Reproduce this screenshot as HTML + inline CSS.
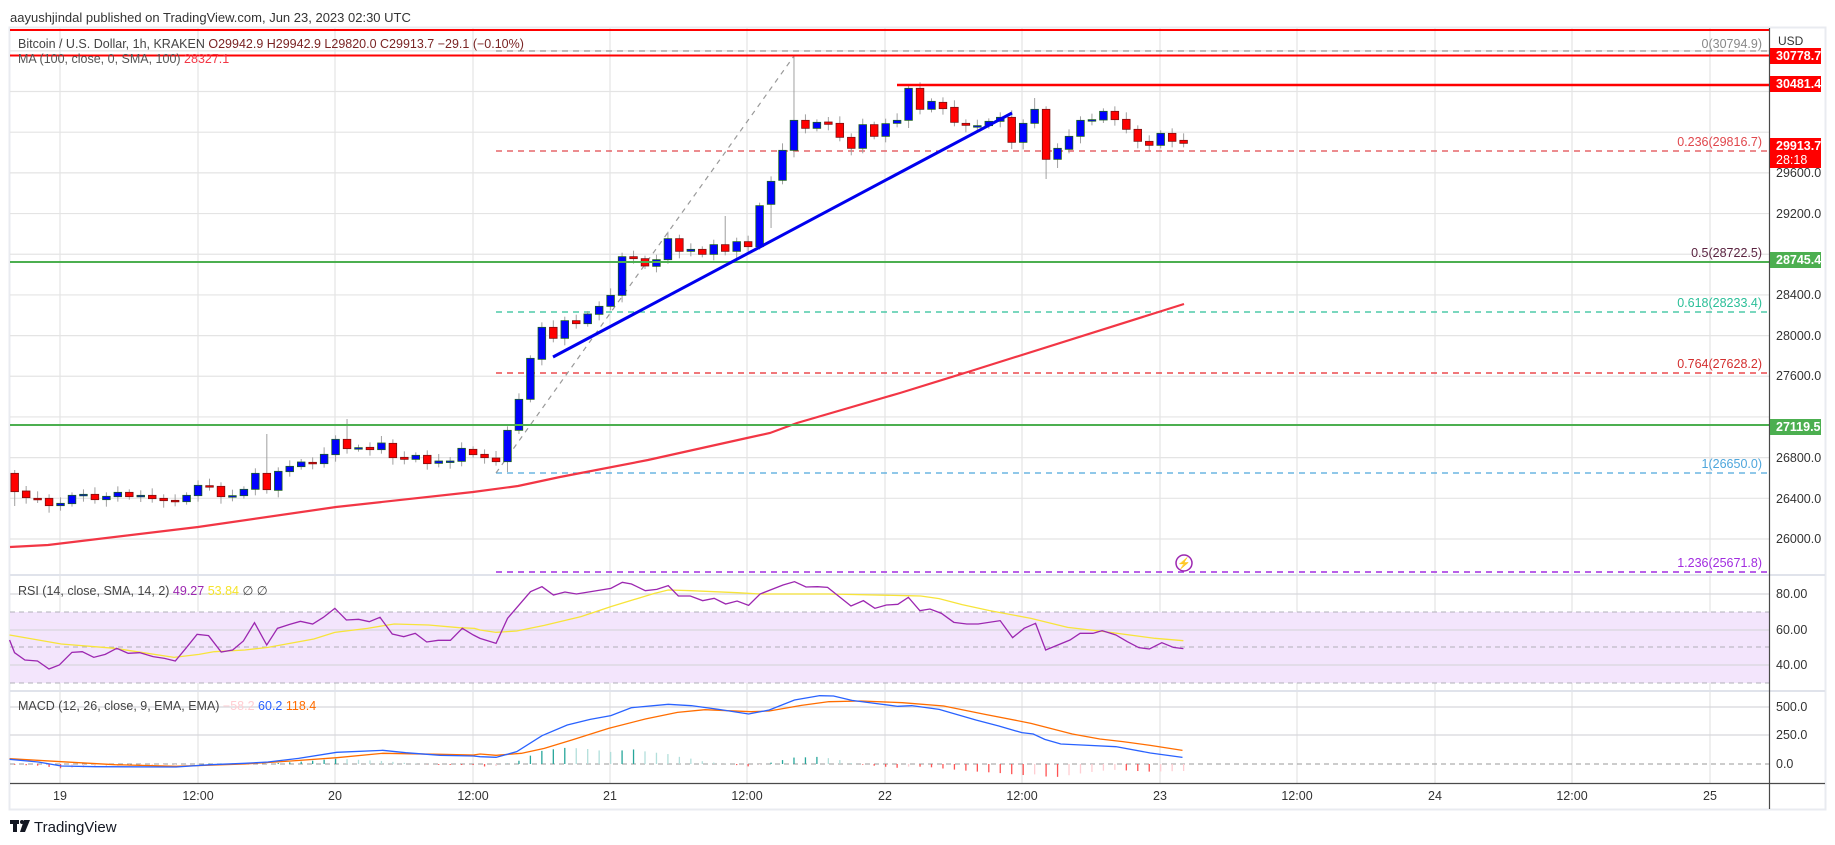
<!DOCTYPE html>
<html><head><meta charset="utf-8"><style>
html,body{margin:0;padding:0;background:#fff;width:1835px;height:845px;overflow:hidden}
svg{display:block;font-family:"Liberation Sans",sans-serif}
</style></head><body>
<svg id="s" width="1835" height="845" viewBox="0 0 1835 845" xmlns="http://www.w3.org/2000/svg">
<rect x="0" y="0" width="1835" height="845" fill="#fff"/>
<rect x="9.5" y="27.5" width="1816" height="782" fill="#fff" stroke="#e9ebf0" stroke-width="2"/>
<g id="grid"></g>
<rect x="10" y="612" width="1759" height="71" fill="#f3e5fc"/>
<g id="gridl"></g>
<line x1="10" y1="575" x2="1769" y2="575" stroke="#e0e3eb" stroke-width="2"/>
<line x1="10" y1="691" x2="1769" y2="691" stroke="#e0e3eb" stroke-width="2"/>
<line x1="1769" y1="575" x2="1825" y2="575" stroke="#e0e3eb" stroke-width="2"/>
<line x1="1769" y1="691" x2="1825" y2="691" stroke="#e0e3eb" stroke-width="2"/>
<g id="lv"></g>
<g id="cd"></g>
<g id="ov"></g>
<line x1="1769.5" y1="28" x2="1769.5" y2="809" stroke="#4a4a4a" stroke-width="1.2"/>
<line x1="10" y1="783.5" x2="1825" y2="783.5" stroke="#4a4a4a" stroke-width="1.2"/>

<text x="10" y="22" font-size="13" fill="#333">aayushjindal published on TradingView.com, Jun 23, 2023 02:30 UTC</text>
<text x="18" y="48" font-size="12.5" fill="#444">Bitcoin / U.S. Dollar, 1h, KRAKEN <tspan fill="#7a2424"> O29942.9  H29942.9  L29820.0  C29913.7  −29.1 (−0.10%)</tspan></text>
<text x="18" y="63" font-size="12.5" fill="#555">MA (100, close, 0, SMA, 100) <tspan fill="#f23645">28327.1</tspan></text>
<text x="18" y="595" font-size="12.5" fill="#444">RSI (14, close, SMA, 14, 2) <tspan fill="#9c27b0">49.27</tspan> <tspan fill="#f5e42c">53.84</tspan>  ∅  ∅</text>
<text x="18" y="710" font-size="12.5" fill="#444">MACD (12, 26, close, 9, EMA, EMA) <tspan fill="#ffcdd2">−58.2</tspan> <tspan fill="#2962ff">60.2</tspan> <tspan fill="#ff6d00">118.4</tspan></text>

<g font-size="12.5" fill="#333" id="axl">
<text x="1778" y="45" font-size="12">USD</text>
<text x="1776" y="177">29600.0</text>
<text x="1776" y="218">29200.0</text>
<text x="1776" y="299">28400.0</text>
<text x="1776" y="340">28000.0</text>
<text x="1776" y="380">27600.0</text>
<text x="1776" y="462">26800.0</text>
<text x="1776" y="503">26400.0</text>
<text x="1776" y="543">26000.0</text>
<text x="1776" y="598">80.00</text>
<text x="1776" y="634">60.00</text>
<text x="1776" y="669">40.00</text>
<text x="1776" y="711">500.0</text>
<text x="1776" y="739">250.0</text>
<text x="1776" y="768">0.0</text>
</g>
<g font-size="12.5" fill="#fff" font-weight="bold">
<rect x="1770" y="48" width="51" height="16" fill="#f00"/><text x="1776" y="60">30778.7</text>
<rect x="1770" y="76" width="51" height="16" fill="#f00"/><text x="1776" y="88">30481.4</text>
<rect x="1770" y="138" width="51" height="30" fill="#f00"/><text x="1776" y="150">29913.7</text><text x="1776" y="164" font-weight="normal">28:18</text>
<rect x="1770" y="252" width="51" height="16" fill="#4caf50"/><text x="1776" y="264">28745.4</text>
<rect x="1770" y="419" width="51" height="16" fill="#4caf50"/><text x="1776" y="431">27119.5</text>
</g>
<g font-size="12.5" text-anchor="end">
<text x="1762" y="48" fill="#888">0(30794.9)</text>
<text x="1762" y="146" fill="#e0474c">0.236(29816.7)</text>
<text x="1762" y="257" fill="#5a2340">0.5(28722.5)</text>
<text x="1762" y="307" fill="#2bbf98">0.618(28233.4)</text>
<text x="1762" y="368" fill="#d32f2f">0.764(27628.2)</text>
<text x="1762" y="468" fill="#4ea6dc">1(26650.0)</text>
<text x="1762" y="567" fill="#a12ce0">1.236(25671.8)</text>
</g>
<g font-size="12.5" fill="#333" text-anchor="middle">
<text x="60" y="800">19</text><text x="198" y="800">12:00</text><text x="335" y="800">20</text><text x="473" y="800">12:00</text>
<text x="610" y="800">21</text><text x="747" y="800">12:00</text><text x="885" y="800">22</text><text x="1022" y="800">12:00</text>
<text x="1160" y="800">23</text><text x="1297" y="800">12:00</text><text x="1435" y="800">24</text><text x="1572" y="800">12:00</text>
<text x="1710" y="800">25</text>
</g>
<circle cx="1184" cy="563" r="8" fill="#fff" stroke="#9c27b0" stroke-width="1.5"/>
<text x="1184" y="567" font-size="11" fill="#9c27b0" text-anchor="middle">⚡</text>
<g>
<rect x="10" y="820" width="9" height="4" fill="#131722"/><rect x="13" y="820" width="4" height="12" fill="#131722"/>
<circle cx="22" cy="822" r="2" fill="#131722"/><polygon points="24,820 30,820 25,832 20,832" fill="#131722"/>
<text x="34" y="832" font-size="15" fill="#131722">TradingView</text>
</g>
</svg>
<script>
(function(){
var NS="http://www.w3.org/2000/svg";
function el(p,t,a){var e=document.createElementNS(NS,t);for(var k in a)e.setAttribute(k,a[k]);document.getElementById(p).appendChild(e);return e;}
function py(p){return 539-(p-26000)*0.1017;}
for(var p=26000;p<=30800;p+=400){var y=py(p);el('grid','line',{x1:10,y1:y,x2:1769,y2:y,stroke:'#e4e4e4','stroke-width':1.2});}
var tx=[60,198,335,473,610,747,885,1022,1160,1297,1435,1572,1710];
tx.forEach(function(x){el('grid','line',{x1:x,y1:28,x2:x,y2:783,stroke:'#e4e4e4','stroke-width':1.2});});
[594,630,665,707,735].forEach(function(y){el('gridl','line',{x1:10,y1:y,x2:1769,y2:y,stroke:'#d8d8dc','stroke-width':1.2});});
[612,647,683].forEach(function(y){el('gridl','line',{x1:10,y1:y,x2:1769,y2:y,stroke:'#b0b0b8','stroke-width':1,'stroke-dasharray':'5,4'});});
el('gridl','line',{x1:10,y1:764,x2:1769,y2:764,stroke:'#9a9a9a','stroke-width':1,'stroke-dasharray':'5,4'});
function hl(y,c,x1,dash,w){var a={x1:x1,y1:y,x2:1769,y2:y,stroke:c,'stroke-width':w||1.2};if(dash)a['stroke-dasharray']=dash;el('lv','line',a);}
hl(51,'#999',496,'6,5');
hl(151,'#e0474c',496,'6,5');
hl(262,'#5a2340',496,'6,5');
hl(312,'#2bbf98',496,'6,5');
hl(373,'#e8262b',496,'6,5');
hl(473,'#4ea6dc',496,'6,5');
hl(572,'#a12ce0',496,'6,5',1.5);
el('lv','line',{x1:496,y1:473,x2:794,y2:56,stroke:'#999','stroke-width':1.2,'stroke-dasharray':'5,5'});
var ma=[[10,547],[48,545],[198,527],[336,507],[473,492],[518,486],[560,477],[648,460],[747,438],[770,433],[797,423],[900,393],[971,371],[1184,304]];
el('lv','polyline',{points:ma.join(' '),fill:'none',stroke:'#f23645','stroke-width':2.2});
var z5=[[280,335,'d'],[333,353,'d'],[355,357,'d'],[355,377,'d'],[377,370,'u'],[371,346,'u'],[347,343,'u'],[343,359,'d'],[359,349,'u'],[350,337,'u'],[337,350,'d'],[346,348,'u'],[346,356,'d'],[355,362,'d'],[361,364,'d'],[365,346,'u'],[347,316,'u'],[317,320,'d'],[319,350,'d'],[347,349,'u'],[347,328,'u'],[328,280,'u'],[280,329,'d'],[331,274,'u'],[275,259,'u'],[260,246,'u'],[247,250,'d'],[251,223,'u'],[224,178,'u'],[178,206,'d'],[203,206,'u'],[202,209,'d'],[209,189,'u'],[190,233,'d'],[232,238,'d'],[238,226,'u'],[226,251,'d'],[250,243,'u'],[243,245,'u'],[244,205,'u'],[208,224,'d'],[223,233,'d'],[234,245,'d'],[245,151,'u'],[151,58,'u']];
var z6=[[1078,955,'u'],[958,862,'u'],[862,895,'d'],[895,842,'u'],[842,851,'d'],[851,822,'u'],[823,799,'u'],[799,766,'u'],[766,650,'u'],[650,656,'d'],[656,678,'d'],[679,659,'u'],[659,596,'u'],[596,634,'d'],[634,628,'u'],[628,643,'d'],[643,614,'u'],[614,634,'d'],[634,605,'u'],[605,620,'d'],[620,497,'u'],[493,424,'u'],[421,331,'u'],[331,241,'u'],[241,265,'d'],[265,247,'u'],[246,253,'d'],[250,292,'d'],[292,325,'d'],[325,254,'u'],[254,289,'d'],[289,251,'u'],[250,241,'u']];
var z7=[[181,85,'u'],[85,148,'d'],[148,124,'u'],[127,146,'d'],[142,187,'d'],[190,196,'d'],[197,199,'u'],[197,184,'u'],[184,172,'u'],[172,247,'d'],[247,190,'u'],[190,148,'u'],[148,298,'d'],[298,265,'u'],[268,229,'u'],[229,181,'u'],[181,179,'u'],[180,154,'u'],[154,179,'d'],[178,208,'d'],[208,244,'d'],[244,256,'d'],[256,220,'u'],[220,244,'d'],[241,250,'d']];
var C=[];
z5.forEach(function(c){C.push([380+c[0]/3,380+c[1]/3,c[2]]);});
z6.forEach(function(c){C.push([40+c[0]/3,40+c[1]/3,c[2]]);});
z7.forEach(function(c){C.push([60+c[0]/3,60+c[1]/3,c[2]]);});
var ov={0:[470,506],22:[434,null],29:[419,null],68:[56,null],90:[null,179],62:[216,null],43:[null,472],44:[null,434],66:[null,228],91:[null,168],89:[98,null],78:[null,128],87:[null,149]};
C.forEach(function(c,i){
 var x=14.7+i*11.46,t=Math.min(c[0],c[1]),b=Math.max(c[0],c[1]);
 var h=t-3-(i*7%5),l=b+3+(i*3%5);
 if(ov[i]){if(ov[i][0]!=null)h=ov[i][0];if(ov[i][1]!=null)l=ov[i][1];}
 el('cd','line',{x1:x,y1:h,x2:x,y2:l,stroke:'#a0a0a0','stroke-width':1});
 var up=c[2]=='u';
 var hh=Math.max(b-t,1.5);
 el('cd','rect',{x:x-3.8,y:t,width:7.6,height:hh,fill:up?'#0000ff':'#ff0000',stroke:up?'#1b5e20':'#7a1010','stroke-width':0.8});
});
el('ov','line',{x1:10,y1:30,x2:1769,y2:30,stroke:'#f00','stroke-width':2});
el('ov','line',{x1:10,y1:55.5,x2:1769,y2:55.5,stroke:'#f00','stroke-width':2});
el('ov','line',{x1:897,y1:85,x2:1769,y2:85,stroke:'#f00','stroke-width':2.5});
el('ov','line',{x1:10,y1:262,x2:1769,y2:262,stroke:'#4caf50','stroke-width':2});
el('ov','line',{x1:10,y1:425,x2:1769,y2:425,stroke:'#4caf50','stroke-width':2});
el('ov','line',{x1:553,y1:357,x2:1012,y2:113,stroke:'#0000ee','stroke-width':3});
function m4(a){return a.map(function(p){return [p[0]*0.3827,560+p[1]/3];}).filter(function(p){return p[0]<482;});}
function m8(a){return a.map(function(p){return [480+p[0]/2.178,570+p[1]/3];});}
var rp=m4([[25,240],[38,278],[65,300],[98,303],[128,327],[155,315],[188,277],[215,275],[245,292],[275,283],[305,265],[335,280],[365,278],[400,290],[430,295],[458,303],[487,263],[515,223],[545,227],[578,276],[608,270],[636,243],[665,188],[697,255],[725,205],[757,193],[785,184],[817,192],[845,172],[875,145],[905,180],[937,178],[965,185],[993,172],[1025,222],[1055,230],[1085,220],[1115,246],[1145,241],[1177,241],[1208,205],[1237,225]]).concat(m8([[0,205],[35,220],[60,145],[110,65],[135,50],[160,75],[185,66],[210,72],[285,55],[310,37],[330,42],[360,62],[385,58],[410,47],[432,78],[458,78],[485,92],[510,85],[535,102],[560,93],[585,106],[610,72],[660,45],[685,35],[710,51],[735,50],[757,52],[808,108],[835,92],[860,115],[885,105],[910,103],[933,82],[958,122],[980,117],[1005,130],[1032,157],[1060,162],[1085,162],[1133,152],[1160,203],[1185,175],[1210,160],[1232,240],[1285,210],[1307,190],[1335,190],[1355,182],[1385,195],[1410,215],[1435,233],[1458,237],[1485,218],[1510,232],[1532,236]]));
var ry=m4([[25,225],[100,240],[160,252],[300,265],[455,292],[520,283],[560,275],[640,270],[700,262],[820,237],[875,217],[960,205],[1030,192],[1120,195],[1200,203],[1240,205]]).concat(m8([[0,180],[35,187],[80,183],[140,166],[220,140],[285,110],[380,70],[410,60],[460,62],[560,68],[610,72],[760,72],[930,77],[960,78],[1000,86],[1050,104],[1110,122],[1200,145],[1280,172],[1360,185],[1470,205],[1532,212]]));
el('ov','polyline',{points:ry.join(' '),fill:'none',stroke:'#f7e43a','stroke-width':1.3});
el('ov','polyline',{points:rp.join(' '),fill:'none',stroke:'#9c27b0','stroke-width':1.3});
var mb=m4([[25,598],[100,606],[160,618],[250,620],[460,621],[550,614],[640,610],[700,606],[780,595],[880,577],[1000,571],[1060,578],[1150,586],[1237,588]]).concat(m8([[0,560],[35,562],[80,545],[135,497],[190,465],[240,448],[285,437],[330,413],[410,403],[460,407],[520,418],[585,432],[630,420],[685,390],[740,377],[770,378],[810,391],[860,400],[910,409],[940,407],[1000,418],[1080,450],[1130,468],[1180,488],[1205,492],[1230,508],[1265,522],[1310,525],[1385,530],[1460,549],[1530,562]]));
var mo=m4([[25,596],[160,605],[300,614],[460,619],[640,612],[760,603],[880,593],[1000,580],[1150,583],[1237,585]]).concat(m8([[0,552],[35,556],[90,550],[140,535],[200,510],[280,475],[360,447],[430,427],[490,419],[590,425],[630,423],[700,406],[760,395],[830,393],[920,398],[1010,408],[1100,433],[1200,460],[1290,492],[1350,507],[1400,515],[1460,526],[1530,541]]));
function interp(a,x){if(x<=a[0][0])return a[0][1];for(var i=1;i<a.length;i++){if(x<=a[i][0]){var t=(x-a[i-1][0])/(a[i][0]-a[i-1][0]);return a[i-1][1]+t*(a[i][1]-a[i-1][1]);}}return a[a.length-1][1];}
var prev=0;
for(var i=0;i<103;i++){var x=14.7+i*11.46;var d=interp(mo,x)-interp(mb,x);
 var col;if(d>=0)col=d>=prev?'#26a69a':'#b2dfdb';else col=d<=prev?'#ff5252':'#ffcdd2';prev=d;
 el('ov','line',{x1:x,y1:764,x2:x,y2:764-d,stroke:col,'stroke-width':1.3});}
el('ov','polyline',{points:mo.join(' '),fill:'none',stroke:'#ff6d00','stroke-width':1.3});
el('ov','polyline',{points:mb.join(' '),fill:'none',stroke:'#2962ff','stroke-width':1.3});
})();
</script>
</body></html>
